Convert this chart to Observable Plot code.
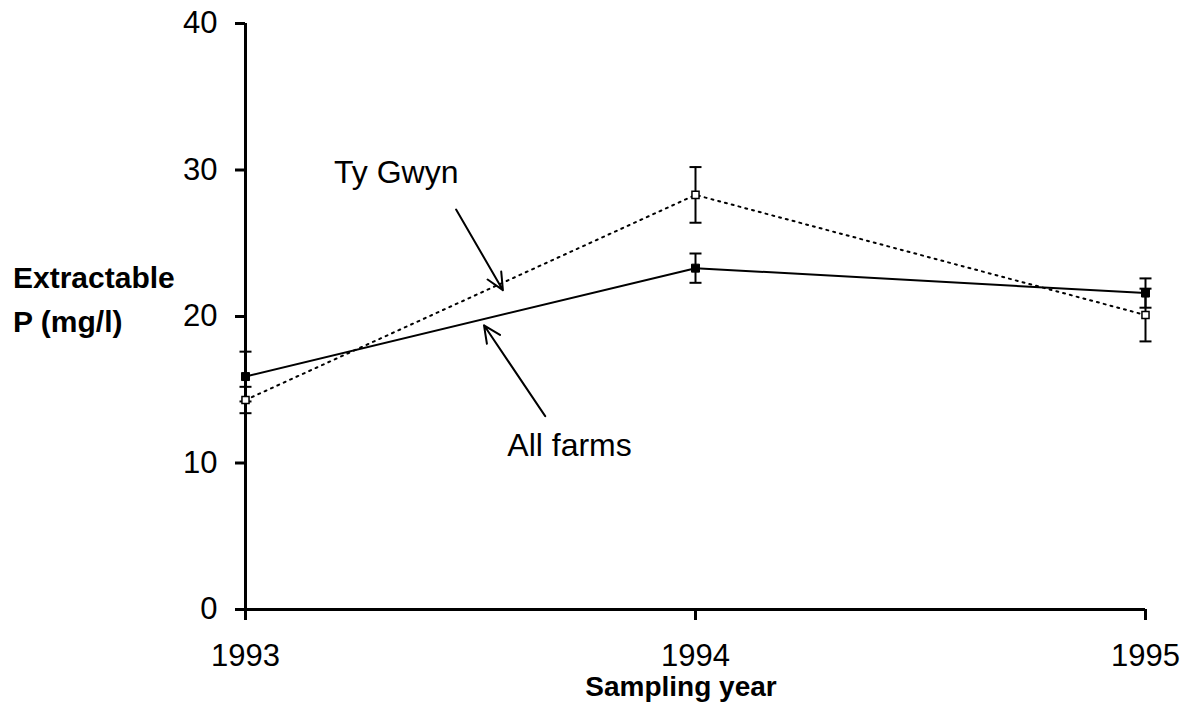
<!DOCTYPE html>
<html><head><meta charset="utf-8">
<script src="https://cdn.jsdelivr.net/npm/d3@7"></script>
<script src="https://cdn.jsdelivr.net/npm/@observablehq/plot@0.6"></script>
<style>
body{margin:0;background:#fff;font-family:"Liberation Sans",Arial,sans-serif;}
#wrap{position:relative;width:1187px;height:708px;overflow:hidden;}
.lab{position:absolute;font-weight:bold;color:#000;white-space:nowrap;}
</style></head>
<body><div id="wrap"></div>
<script>
const years = [1993, 1994, 1995];
const allFarms = [15.9, 23.3, 21.6];
const allFarmsErr = [1.7, 1.0, 1.0];
const tyGwyn = [14.3, 28.3, 20.1];
const tyGwynErr = [0.9, 1.9, 1.8];
const yTicks = [0, 10, 20, 30, 40];
const xTicks = [1993, 1994, 1995];
const notes = [{label: "Ty Gwyn", x: 1993.335, y: 29.8}, {label: "All farms", x: 1993.72, y: 11.2}];
const arrows = [{x1: 1993.468, y1: 27.3, x2: 1993.572, y2: 21.8}, {x1: 1993.666, y1: 13.2, x2: 1993.530, y2: 19.4}];

const af = years.map((x, i) => ({x, y: allFarms[i], lo: allFarms[i] - allFarmsErr[i], hi: allFarms[i] + allFarmsErr[i]}));
const tg = years.map((x, i) => ({x, y: tyGwyn[i], lo: tyGwyn[i] - tyGwynErr[i], hi: tyGwyn[i] + tyGwynErr[i]}));
const capSym = {draw(ctx, size) { const r = 6; ctx.moveTo(-r, 0); ctx.lineTo(r, 0); }};

const chart = Plot.plot({
  width: 1187, height: 708,
  marginLeft: 245, marginRight: 42, marginTop: 23, marginBottom: 99,
  style: {fontFamily: "'Liberation Sans', Arial, sans-serif", fontSize: "31px", color: "#000", background: "#fff"},
  x: {domain: [1993, 1995], label: null},
  y: {domain: [0, 40], label: null},
  marks: [
    Plot.axisY({ticks: yTicks, tickSize: 10, tickPadding: 18, strokeWidth: 3, fontSize: 31, label: null, tickFormat: d => d}),
    Plot.axisX({ticks: xTicks, tickSize: 11, tickPadding: 23, strokeWidth: 3, fontSize: 31, label: null, tickFormat: d => String(d)}),
    Plot.ruleY([0], {strokeWidth: 3}),
    Plot.ruleX([1993], {strokeWidth: 3}),
    Plot.line(tg, {x: "x", y: "y", stroke: "#000", strokeWidth: 2, strokeDasharray: "2,5"}),
    Plot.line(af, {x: "x", y: "y", stroke: "#000", strokeWidth: 2}),
    Plot.ruleX(tg, {x: "x", y1: "lo", y2: "hi", strokeWidth: 2}),
    Plot.ruleX(af, {x: "x", y1: "lo", y2: "hi", strokeWidth: 2}),
    Plot.dot(tg, {x: "x", y: "lo", symbol: capSym, stroke: "#000", strokeWidth: 2, fill: "none"}),
    Plot.dot(tg, {x: "x", y: "hi", symbol: capSym, stroke: "#000", strokeWidth: 2, fill: "none"}),
    Plot.dot(af, {x: "x", y: "lo", symbol: capSym, stroke: "#000", strokeWidth: 2, fill: "none"}),
    Plot.dot(af, {x: "x", y: "hi", symbol: capSym, stroke: "#000", strokeWidth: 2, fill: "none"}),
    Plot.dot(af, {x: "x", y: "y", symbol: "square", r: 4.5, fill: "#000", stroke: "#000", strokeWidth: 1}),
    Plot.dot(tg, {x: "x", y: "y", symbol: "square", r: 4, fill: "#fff", stroke: "#000", strokeWidth: 1.5}),
    Plot.arrow(arrows, {x1: "x1", y1: "y1", x2: "x2", y2: "y2", stroke: "#000", strokeWidth: 2, headLength: 14, headAngle: 50}),
    Plot.text(notes, {x: "x", y: "y", text: "label", fontSize: 32, fill: "#000"})
  ]
});
const wrap = document.getElementById("wrap");
wrap.appendChild(chart);
const yl = document.createElement("div");
yl.className = "lab"; yl.style.left = "13px"; yl.style.top = "256px";
yl.style.fontSize = "30px"; yl.style.lineHeight = "44px";
yl.innerHTML = "Extractable<br>P (mg/l)";
wrap.appendChild(yl);
const xl = document.createElement("div");
xl.className = "lab"; xl.style.left = "0"; xl.style.width = "1362px"; xl.style.textAlign = "center"; xl.style.top = "670px";
xl.style.fontSize = "28px"; xl.style.lineHeight = "34px";
xl.textContent = "Sampling year";
wrap.appendChild(xl);
</script></body></html>
